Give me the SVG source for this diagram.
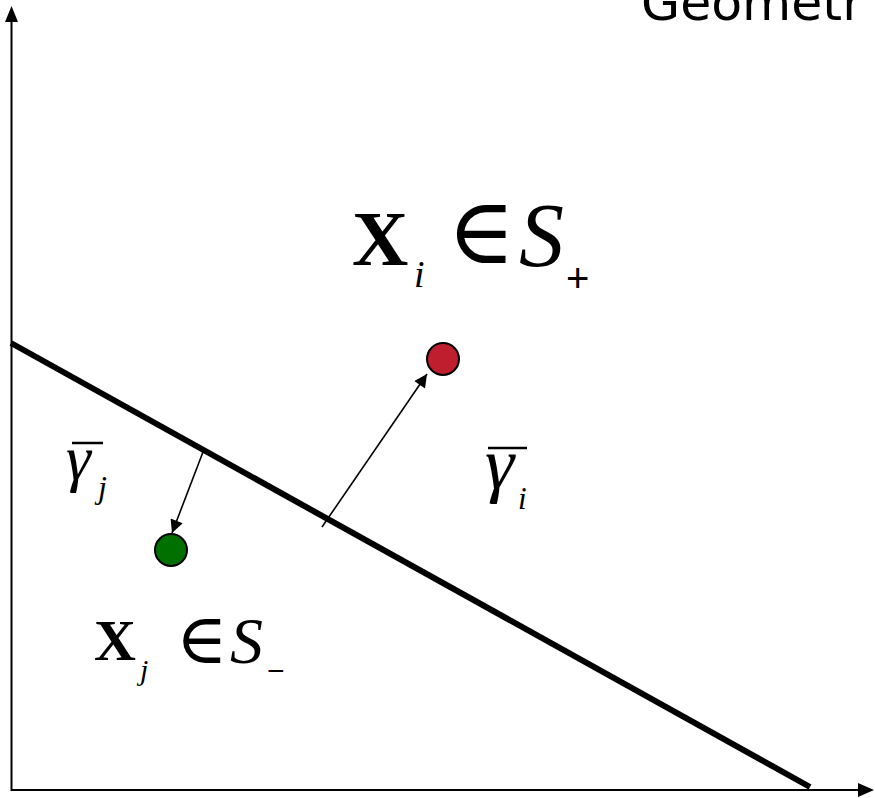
<svg xmlns="http://www.w3.org/2000/svg" width="875" height="798" viewBox="0 0 875 798">
<style>
.axis{stroke:#000;stroke-width:2;fill:none}
.arr{stroke:#000;stroke-width:1.6;fill:none}
.bar{stroke:#000;stroke-width:2.5}
.serif{font-family:"Liberation Serif","DejaVu Serif",serif;fill:#000}
.b{font-weight:bold}
.i{font-style:italic}
.sans{font-family:"Liberation Sans","DejaVu Sans",sans-serif;fill:#000}
</style>
<defs>
<marker id="ah" viewBox="0 0 10 10" refX="10" refY="5" markerWidth="15" markerHeight="13" markerUnits="userSpaceOnUse" orient="auto">
<path d="M0,0 L10,5 L0,10 z" fill="#000"/>
</marker>
</defs>
<rect width="875" height="798" fill="#fff"/>
<g id="axes">
<line class="axis" x1="11.5" y1="791" x2="11.5" y2="20"/>
<path d="M11.5,6 L5,22 L18,22 z" fill="#000"/>
<line class="axis" x1="11" y1="790" x2="860" y2="790"/>
<path d="M874,790 L858,783 L858,797 z" fill="#000"/>
</g>
<g id="title">
<text x="641" y="20" font-family="DejaVu Sans, Verdana, sans-serif" font-size="50.5" fill="#000">Geometr</text>
</g>
<g id="hyperplane">
<line x1="11" y1="343" x2="810" y2="787" stroke="#000" stroke-width="6"/>
</g>
<g id="connectors">
<line class="arr" x1="322" y1="527" x2="427" y2="374" marker-end="url(#ah)"/>
<line class="arr" x1="203" y1="452" x2="172" y2="533" marker-end="url(#ah)"/>
</g>
<g id="point-i">
<circle cx="443" cy="359" r="16" fill="#be1e2d" stroke="#000" stroke-width="2"/>
</g>
<g id="point-j">
<circle cx="171" cy="550" r="16" fill="#007000" stroke="#000" stroke-width="2"/>
</g>
<g id="label-xi">
<text class="serif b" x="352" y="265" font-size="78">X</text>
<text class="serif i" x="414" y="287" font-size="38">i</text>
<text class="serif" x="447" y="263" font-size="92">∈</text>
<text class="serif i" x="519" y="266" font-size="90">S</text>
<text class="sans" x="566" y="292" font-size="40">+</text>
</g>
<g id="label-xj">
<text class="serif b" x="94" y="660" font-size="58">X</text>
<text class="serif i" x="140" y="680" font-size="30">j</text>
<text class="serif" x="176" y="663" font-size="70">∈</text>
<text class="serif i" x="230" y="663" font-size="66">S</text>
<text class="sans" x="267" y="681" font-size="30">−</text>
</g>
<g id="label-gj">
<line class="bar" x1="72" y1="443" x2="103" y2="443"/>
<text class="serif i" x="66" y="479" font-size="63">γ</text>
<text class="serif i" x="98" y="498" font-size="32">j</text>
</g>
<g id="label-gi">
<line class="bar" x1="488" y1="448" x2="527" y2="448"/>
<text class="serif i" x="485" y="488" font-size="74">γ</text>
<text class="serif i" x="518" y="509" font-size="31">i</text>
</g>
</svg>
